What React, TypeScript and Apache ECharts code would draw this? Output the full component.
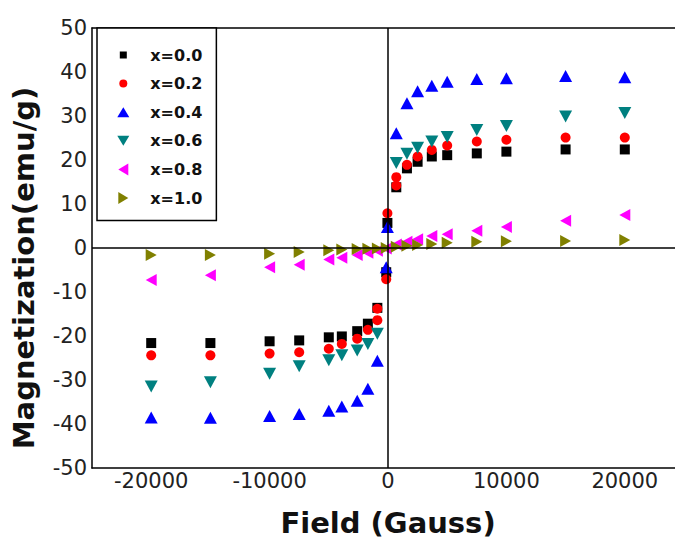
import React, { useEffect, useRef } from 'react';
import * as echarts from 'echarts';

// Legend / series names
const seriesNames = ['x=0.0', 'x=0.2', 'x=0.4', 'x=0.6', 'x=0.8', 'x=1.0'];

// X axis tick labels that are shown
const fieldTickLabels = [-20000, -10000, 0, 10000, 20000];

// [Field (Gauss), Magnetization (emu/g)] per composition
const x00: [number, number][] = [
  [-20000, -21.6], [-15000, -21.6], [-10000, -21.2], [-7500, -21.0], [-5000, -20.3],
  [-3900, -20.1], [-2600, -18.9], [-1700, -17.2], [-900, -13.6], [-150, -5.5], [-50, 5.7],
  [700, 13.8], [1600, 18.1], [2500, 19.6], [3700, 20.8], [5000, 21.1], [7500, 21.5],
  [10000, 21.9], [15000, 22.4], [20000, 22.4],
];
const x02: [number, number][] = [
  [-20000, -24.4], [-15000, -24.4], [-10000, -24.0], [-7500, -23.7], [-5000, -22.9],
  [-3900, -21.8], [-2600, -20.6], [-1700, -18.6], [-900, -16.4], [-900, -13.8], [-150, -7.1],
  [-50, 7.9], [700, 14.2], [700, 16.1], [1600, 18.9], [2500, 20.8], [3700, 22.3], [5000, 23.3],
  [7500, 24.2], [10000, 24.6], [15000, 25.1], [20000, 25.1],
];
const x04: [number, number][] = [
  [-20000, -38.5], [-15000, -38.6], [-10000, -38.2], [-7500, -37.7], [-5000, -37.0],
  [-3900, -36.0], [-2600, -34.7], [-1700, -32.0], [-900, -25.6], [-150, -4.4], [-50, 4.8],
  [700, 26.1], [1600, 32.9], [2500, 35.6], [3700, 36.9], [5000, 37.8], [7500, 38.4],
  [10000, 38.6], [15000, 39.1], [20000, 38.8],
];
const x06: [number, number][] = [
  [-20000, -31.5], [-15000, -30.5], [-10000, -28.6], [-7500, -26.9], [-5000, -25.5],
  [-3900, -24.4], [-2600, -23.3], [-1700, -21.8], [-900, -19.5], [700, 19.3], [1600, 21.4],
  [2500, 22.8], [3700, 24.2], [5000, 25.2], [7500, 26.8], [10000, 27.7], [15000, 29.9],
  [20000, 30.7],
];
const x08: [number, number][] = [
  [-20000, -7.3], [-15000, -6.2], [-10000, -4.4], [-7500, -3.8], [-5000, -2.6],
  [-3900, -2.2], [-2600, -1.6], [-1700, -1.1], [-900, -0.6], [-150, -0.1], [700, 0.8],
  [1600, 1.4], [2500, 2.0], [3700, 2.7], [5000, 3.1], [7500, 3.9], [10000, 4.8],
  [15000, 6.2], [20000, 7.5],
];
const x10: [number, number][] = [
  [-20000, -1.6], [-15000, -1.6], [-10000, -1.3], [-7500, -0.9], [-5000, -0.5],
  [-3900, -0.35], [-2600, -0.25], [-1700, -0.15], [-900, -0.1], [-150, 0], [700, 0.3],
  [1600, 0.5], [2500, 0.7], [3700, 0.9], [5000, 1.2], [7500, 1.4], [10000, 1.55],
  [15000, 1.6], [20000, 1.8],
];

const seriesData = [x00, x02, x04, x06, x08, x10];

// styles
const colors = ['#000000', '#ff0000', '#0000ff', '#008080', '#ff00ff', '#808000'];
const symbols = ['rect', 'circle', 'triangle', 'triangle', 'triangle', 'triangle'];
const rotations = [0, 0, 0, 180, 90, -90];
const sizes: any[] = [10, 10, [13, 12], [13, 12], [12, 11], [12, 11]];
const legendIcons = [
  'path://M0,0M12,12M2.5,2.5L9.5,2.5L9.5,9.5L2.5,9.5Z',
  'path://M0,0M12,12M2,6A4,4,0,1,1,10,6A4,4,0,1,1,2,6Z',
  'path://M6,1L12,11L0,11Z',
  'path://M0,1L12,1L6,11Z',
  'path://M1,6L11,0L11,12Z',
  'path://M1,0L11,6L1,12Z',
];

const FONT = 'DejaVu Sans';
const frameLine = { show: true, onZero: false, lineStyle: { color: '#000', width: 1.5 } };

export default function App() {
  const ref = useRef<HTMLDivElement>(null);
  useEffect(() => {
    if (!ref.current) return;
    const chart = echarts.init(ref.current, undefined, { renderer: 'svg' });
    const option: any = {
      animation: false,
      backgroundColor: '#ffffff',
      grid: {
        left: 92, right: -9, top: 28, bottom: 72,
        containLabel: false, outerBoundsMode: 'none', show: false,
      },
      xAxis: [
        {
          type: 'value', min: -25000, max: 25000, interval: 5000, position: 'bottom',
          name: 'Field (Gauss)', nameLocation: 'middle', nameGap: 40,
          nameTextStyle: { fontFamily: FONT, fontWeight: 'bold', fontSize: 29, color: '#111' },
          axisLine: frameLine, axisTick: { show: false }, splitLine: { show: false },
          axisLabel: {
            fontFamily: FONT, fontSize: 21, color: '#222', margin: 2,
            formatter: (v: number) => (fieldTickLabels.includes(v) ? String(v) : ''),
          },
        },
        {
          type: 'value', min: -25000, max: 25000, interval: 5000, position: 'top',
          axisLine: frameLine, axisTick: { show: false }, splitLine: { show: false },
          axisLabel: { show: false },
        },
      ],
      yAxis: {
        type: 'value', min: -50, max: 50, interval: 10, position: 'left',
        name: 'Magnetization(emu/g)', nameLocation: 'middle', nameGap: 54,
        nameTextStyle: { fontFamily: FONT, fontWeight: 'bold', fontSize: 29, color: '#111', padding: [0, 40, 0, 0] },
        axisLine: frameLine, axisTick: { show: false }, splitLine: { show: false },
        axisLabel: { fontFamily: FONT, fontSize: 21, color: '#222', margin: 5 },
      },
      legend: {
        orient: 'vertical', left: 97, top: 28,
        padding: [19, 14, 14.5, 20.3],
        itemWidth: 12, itemHeight: 12, itemGap: 12.6,
        backgroundColor: '#fff', borderColor: '#000', borderWidth: 1.5,
        selectedMode: false,
        textStyle: { fontFamily: FONT, fontWeight: 'bold', fontSize: 16, color: '#111', padding: [0, 0, 0, 16] },
        data: seriesNames.map((n, i) => ({ name: n, icon: legendIcons[i] })),
      },
      series: [
        {
          type: 'scatter', name: 'zero-lines', data: [], z: 1, silent: true,
          markLine: {
            silent: true, symbol: ['none', 'none'], label: { show: false },
            lineStyle: { color: '#000', width: 1.5, type: 'solid' },
            emphasis: { disabled: true },
            data: [{ xAxis: 0 }, { yAxis: 0 }],
          },
        },
        ...seriesNames.map((name, i) => ({
          type: 'scatter', name, data: seriesData[i], z: 2,
          symbol: symbols[i], symbolSize: sizes[i], symbolRotate: rotations[i],
          itemStyle: { color: colors[i], opacity: 1 },
        })),
      ],
    };
    chart.setOption(option);
    return () => chart.dispose();
  }, []);
  return (
    <div
      ref={ref}
      style={{ position: 'fixed', left: 0, top: 0, width: 675, height: 540, background: '#fff' }}
    />
  );
}
